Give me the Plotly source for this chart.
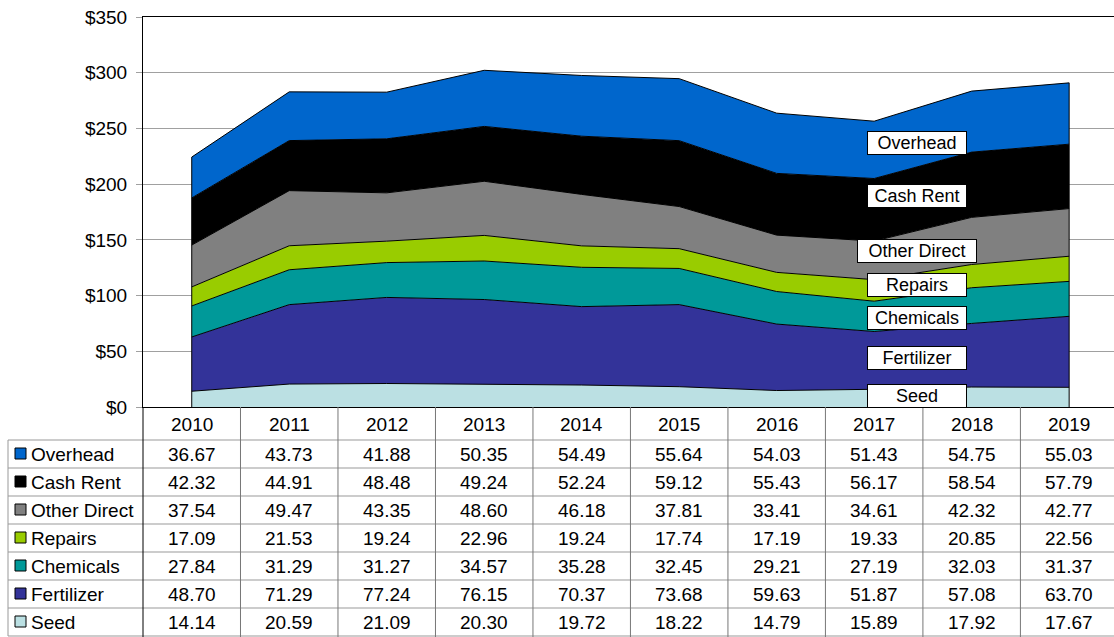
import plotly.graph_objects as go

years = ["2010", "2011", "2012", "2013", "2014", "2015", "2016", "2017", "2018", "2019"]
overhead = [36.67, 43.73, 41.88, 50.35, 54.49, 55.64, 54.03, 51.43, 54.75, 55.03]
cash_rent = [42.32, 44.91, 48.48, 49.24, 52.24, 59.12, 55.43, 56.17, 58.54, 57.79]
other_direct = [37.54, 49.47, 43.35, 48.60, 46.18, 37.81, 33.41, 34.61, 42.32, 42.77]
repairs = [17.09, 21.53, 19.24, 22.96, 19.24, 17.74, 17.19, 19.33, 20.85, 22.56]
chemicals = [27.84, 31.29, 31.27, 34.57, 35.28, 32.45, 29.21, 27.19, 32.03, 31.37]
fertilizer = [48.70, 71.29, 77.24, 76.15, 70.37, 73.68, 59.63, 51.87, 57.08, 63.70]
seed = [14.14, 20.59, 21.09, 20.30, 19.72, 18.22, 14.79, 15.89, 17.92, 17.67]

# stacking order bottom -> top
series_names = ["Seed", "Fertilizer", "Chemicals", "Repairs", "Other Direct", "Cash Rent", "Overhead"]
series_vals = [seed, fertilizer, chemicals, repairs, other_direct, cash_rent, overhead]
series_colors = ["#BBE0E3", "#333399", "#009999", "#99CC00", "#808080", "#000000", "#0066CC"]

# in-chart label positions (data units, $)
label_y = [9.9, 44, 79.9, 109.5, 140, 189.4, 236.9]
label_w = [98, 98, 98, 98, 118, 98, 98]

FONT = "Liberation Sans, Arial, sans-serif"
FS = 19
W, H = 1114, 637
L, T, B_PX = 143, 17, 407
PW = W - L
PH = B_PX - T


def px_x(px):
    return (px - L) / PW


def px_y(py):
    return (B_PX - py) / PH


fig = go.Figure()
for name, vals, col in zip(series_names, series_vals, series_colors):
    fig.add_trace(go.Scatter(
        x=years, y=vals, name=name, stackgroup="one", mode="lines",
        line=dict(color="black", width=1), fillcolor=col, hoverinfo="x+y+name"))

totals = [sum(v[i] for v in series_vals) for i in range(len(years))]
for idx in (0, len(years) - 1):
    fig.add_trace(go.Scatter(x=[years[idx], years[idx]], y=[0, totals[idx]], mode="lines",
                             line=dict(color="black", width=1), showlegend=False, hoverinfo="skip"))

shapes = []
annotations = []

# in-chart labels
for name, y, w in zip(series_names, label_y, label_w):
    annotations.append(dict(x=7.44, y=y, xref="x", yref="y", text=name, showarrow=False,
                            font=dict(family=FONT, size=18, color="black"),
                            bgcolor="white", bordercolor="black", borderwidth=1, borderpad=0,
                            width=w, height=22, xanchor="center", yanchor="middle"))

# data table
row_top = 440
row_h = 28
table_order = ["Overhead", "Cash Rent", "Other Direct", "Repairs", "Chemicals", "Fertilizer", "Seed"]
name_to_vals = dict(zip(series_names, series_vals))
name_to_col = dict(zip(series_names, series_colors))

for r in range(len(table_order) + 1):
    py = row_top + r * row_h
    shapes.append(dict(type="line", xref="paper", yref="paper", x0=px_x(8), x1=1, y0=px_y(py), y1=px_y(py),
                       line=dict(color="#999999", width=1)))
shapes.append(dict(type="line", xref="paper", yref="paper", x0=px_x(8), x1=px_x(8),
                   y0=px_y(row_top), y1=px_y(row_top + 7 * row_h), line=dict(color="#999999", width=1)))
for k in range(1, len(years)):
    shapes.append(dict(type="line", xref="x", yref="paper", x0=k - 0.5, x1=k - 0.5,
                       y0=0, y1=px_y(H), line=dict(color="#777777", width=1)))
shapes.append(dict(type="line", xref="paper", yref="paper", x0=0, x1=0, y0=0, y1=px_y(H),
                   line=dict(color="black", width=1)))

for i, yr in enumerate(years):
    annotations.append(dict(x=i, y=px_y(424), xref="x", yref="paper", text=yr, showarrow=False,
                            font=dict(family=FONT, size=FS, color="black"), xanchor="center", yanchor="middle"))

for r, name in enumerate(table_order):
    cy = row_top + r * row_h + row_h / 2
    shapes.append(dict(type="rect", xref="paper", yref="paper", x0=px_x(15), x1=px_x(26),
                       y0=px_y(cy - 6), y1=px_y(cy + 5), fillcolor=name_to_col[name],
                       line=dict(color="black", width=1)))
    annotations.append(dict(x=px_x(29), y=px_y(cy), xref="paper", yref="paper", text=name, showarrow=False,
                            font=dict(family=FONT, size=FS, color="black"), xanchor="left", yanchor="middle"))
    for i, v in enumerate(name_to_vals[name]):
        annotations.append(dict(x=i, y=px_y(cy), xref="x", yref="paper", text=f"{v:.2f}", showarrow=False,
                                font=dict(family=FONT, size=FS, color="black"), xanchor="center", yanchor="middle"))

fig.update_layout(
    width=W, height=H,
    margin=dict(l=L, r=0, t=T, b=H - B_PX, pad=0),
    paper_bgcolor="white", plot_bgcolor="white",
    showlegend=False,
    shapes=shapes, annotations=annotations,
    font=dict(family=FONT, size=FS, color="black"),
    xaxis=dict(type="category", range=[-0.5, 9.46], showgrid=False, showticklabels=False, ticks="",
               showline=True, linecolor="black", linewidth=1, mirror=True, zeroline=False),
    yaxis=dict(range=[0, 350], dtick=50, tickprefix="$", showgrid=True, gridcolor="#A0A0A0", gridwidth=1,
               ticks="outside", ticklen=6, tickcolor="#A0A0A0", showline=True, linecolor="black", linewidth=1,
               zeroline=False, ticklabelstandoff=5, tickfont=dict(family=FONT, size=FS, color="black")),
)

fig.write_html("out.html", config={"displayModeBar": False},
               post_script="document.body.style.margin='0';document.body.style.overflow='hidden';")
